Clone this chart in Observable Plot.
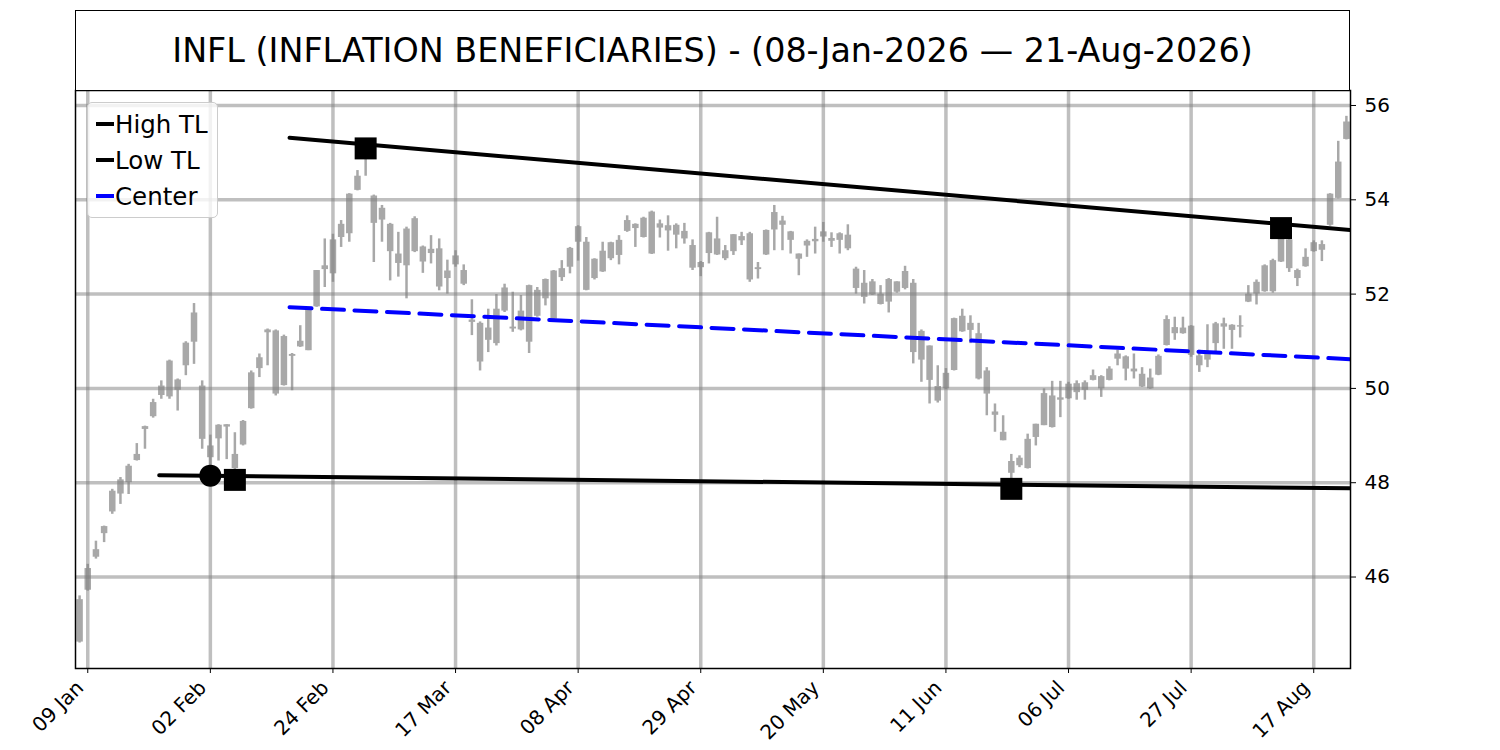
<!DOCTYPE html>
<html><head><meta charset="utf-8">
<script src="https://cdn.jsdelivr.net/npm/d3@7"></script>
<script src="https://cdn.jsdelivr.net/npm/@observablehq/plot@0.6"></script>
<style>
body{margin:0;background:#fff;font-family:"DejaVu Sans",sans-serif;}
#wrap{position:relative;width:1500px;height:750px;overflow:hidden;}
#chart{position:absolute;left:0;top:0;width:1500px;height:750px;}
#title{position:absolute;left:75px;top:10px;width:1275px;height:81px;box-sizing:border-box;border:1.5px solid #000;display:flex;align-items:center;justify-content:center;font-size:33.4px;color:#000;background:#fff;}
#legend{position:absolute;left:87px;top:102px;width:131px;height:116px;box-sizing:border-box;border:1px solid #cccccc;border-radius:5px;background:rgba(255,255,255,0.8);}
.row{position:absolute;left:0;height:36px;display:flex;align-items:center;font-size:24.5px;color:#000;white-space:nowrap;}
.sw{width:18px;height:4px;margin-left:8px;margin-right:1px;}
</style></head><body>
<div id="wrap">
  <div id="chart"></div>
  <div id="title">INFL (INFLATION BENEFICIARIES) - (08-Jan-2026 — 21-Aug-2026)</div>
  <div id="legend"></div>
</div>
<script>
// OHLC per trading day (index 0 = 08 Jan 2026 ... 155 = 21 Aug 2026)
const open = [44.62,45.72,46.42,46.92,47.38,47.76,48.00,48.47,49.13,49.40,49.85,49.82,50.18,50.48,50.98,50.05,48.78,48.93,49.18,48.60,
48.80,49.57,50.42,51.18,51.22,51.10,50.72,50.88,50.80,51.73,52.52,52.43,53.20,53.28,54.20,55.00,54.08,53.82,53.48,52.65,
52.60,53.60,53.00,52.86,52.96,52.33,52.62,52.50,51.45,51.38,51.02,50.95,51.64,51.30,51.64,50.98,52.08,51.90,51.47,52.35,
52.57,53.10,53.10,52.33,52.47,52.75,52.82,53.33,53.48,53.20,53.74,53.40,53.45,53.46,53.33,53.03,52.56,52.86,53.17,52.75,
52.90,53.13,53.28,52.52,52.83,53.36,53.46,53.32,52.85,53.02,53.11,53.21,53.12,53.28,52.96,52.53,52.23,51.98,52.00,51.83,
52.04,52.12,52.23,50.60,50.90,50.04,49.99,50.38,51.20,51.38,51.16,50.37,49.50,49.07,48.45,48.36,48.30,48.96,49.21,49.17,
49.80,49.78,49.91,49.96,50.17,50.25,50.17,50.62,50.67,50.41,50.03,50.22,50.28,50.91,51.16,51.28,51.32,50.69,50.60,50.95,
51.30,51.34,51.30,51.83,52.00,52.05,52.05,52.68,53.15,52.50,52.58,52.90,53.05,53.46,54.03,55.28];
const high = [45.60,46.27,46.76,47.08,47.86,48.11,48.39,48.83,49.20,49.77,50.16,50.60,50.20,50.99,51.80,50.16,49.01,49.23,49.23,49.06,
49.32,50.37,50.73,51.26,51.24,51.13,50.74,51.33,51.72,52.50,53.17,53.27,53.56,54.13,54.62,55.10,54.10,53.88,53.50,53.31,
53.42,53.64,53.02,53.24,53.17,52.72,52.92,52.62,51.88,51.41,51.68,51.99,52.21,52.04,51.97,52.19,52.14,52.32,52.50,52.71,
52.99,53.45,53.20,52.75,53.10,53.10,53.24,53.66,53.49,53.63,53.76,53.57,53.66,53.49,53.50,53.15,52.69,53.31,53.63,53.03,
53.26,53.31,53.31,52.67,53.36,53.88,53.65,53.33,52.85,53.15,53.42,53.52,53.30,53.30,53.47,52.57,52.50,52.31,52.18,52.33,
52.26,52.59,52.31,51.24,50.90,50.48,50.42,51.49,51.68,51.54,51.38,50.44,49.67,49.42,48.60,48.57,49.03,49.24,49.99,50.15,
50.15,50.13,50.16,50.16,50.39,50.27,50.46,50.81,50.69,50.73,50.44,50.41,50.71,51.54,51.51,51.51,51.33,50.81,51.35,51.40,
51.49,51.35,51.54,52.18,52.30,52.62,52.74,53.40,53.20,52.53,52.96,53.13,53.13,54.13,55.24,55.77];
const low = [44.60,45.70,46.38,46.73,47.33,47.54,47.75,48.46,48.71,49.37,49.77,49.77,49.52,50.27,50.51,48.71,48.30,48.46,48.49,48.06,
48.78,49.56,50.23,50.48,49.84,50.05,49.95,50.87,50.80,51.72,52.14,52.25,52.99,53.10,54.19,54.50,52.67,53.10,52.28,52.36,
51.90,52.88,52.44,52.64,52.07,52.00,52.57,52.18,51.12,50.37,50.76,50.90,51.61,51.19,51.22,50.74,51.51,51.75,51.44,52.27,
52.43,52.70,52.07,52.30,52.46,52.71,52.62,53.31,52.99,53.19,52.84,53.19,52.91,52.96,53.06,52.50,52.37,52.64,52.82,52.71,
52.82,53.03,52.25,52.32,52.82,52.92,52.92,52.85,52.39,52.78,52.85,53.10,52.99,52.85,52.92,52.00,51.79,51.97,51.77,51.60,
52.02,52.09,50.52,50.13,49.67,49.69,49.98,50.37,51.19,50.95,50.18,49.42,49.07,48.89,47.87,48.32,48.29,48.78,49.21,49.16,
49.38,49.77,49.75,49.75,50.16,49.81,50.16,50.48,50.16,50.20,50.02,49.98,50.27,50.90,51.02,51.15,50.66,50.34,50.44,50.76,
50.83,50.83,51.07,51.82,51.77,52.04,52.02,52.67,52.46,52.16,52.57,52.89,52.69,53.44,54.02,55.27];
const close = [45.52,46.18,46.58,47.07,47.82,48.06,48.35,48.60,49.19,49.70,50.05,50.58,49.96,50.96,51.60,48.92,48.53,49.22,49.23,48.30,
49.30,50.33,50.65,51.24,49.88,50.06,50.68,51.00,51.68,52.50,52.60,53.15,53.48,54.12,54.50,54.92,53.50,53.57,52.90,52.85,
53.38,52.90,52.68,52.95,52.15,52.49,52.81,52.21,51.40,50.56,51.28,51.68,52.13,51.26,51.24,52.18,51.53,52.31,52.49,52.54,
52.97,53.43,52.08,52.74,52.91,53.09,53.14,53.56,53.39,53.61,52.85,53.49,53.34,53.25,53.17,52.55,52.67,53.30,52.83,52.92,
53.26,53.22,52.30,52.56,53.35,53.73,53.55,53.14,52.74,53.12,53.16,53.32,53.18,53.14,53.25,52.12,51.93,52.26,51.78,52.31,
52.26,52.48,50.76,51.21,50.17,49.73,50.32,51.48,51.53,51.23,50.20,49.88,49.43,48.89,48.20,48.52,48.92,49.24,49.89,49.84,
49.75,50.09,50.10,50.12,50.27,49.99,50.41,50.73,50.41,50.35,50.30,49.99,50.68,51.46,51.29,51.16,50.70,50.48,50.78,51.37,
51.37,51.23,51.33,52.00,52.25,52.60,52.71,53.20,52.54,52.33,52.78,53.09,52.93,54.12,54.80,55.65];

// x-axis ticks (trading-day index) and labels
const tickIdx = [1,16,31,46,61,76,91,106,121,136,151];
const tickLabels = ["09 Jan","02 Feb","24 Feb","17 Mar","08 Apr","29 Apr","20 May","11 Jun","06 Jul","27 Jul","17 Aug"];
const yTicks = [46,48,50,52,54,56];

// trend lines (start/end index, value)
const hiTLx = [25.69, 155.5], hiTLy = [55.315, 53.36];
const loTLx = [9.74, 155.5],  loTLy = [48.16, 47.88];

// pivot markers
const sqX = [19, 35, 114, 147], sqY = [48.06, 55.09, 47.87, 53.40];
const ciX = [16], ciY = [48.15];

const rows = open.map((o, i) => ({i, o, h: high[i], l: low[i], c: close[i]}));
const lineAt = (xs, ys, x) => ys[0] + (ys[1] - ys[0]) * (x - xs[0]) / (xs[1] - xs[0]);
const hiTL = hiTLx.map((x, k) => ({x, y: hiTLy[k]}));
const loTL = loTLx.map((x, k) => ({x, y: loTLy[k]}));
const center = hiTLx.map(x => ({x, y: (lineAt(hiTLx, hiTLy, x) + lineAt(loTLx, loTLy, x)) / 2}));
const squares = sqX.map((x, k) => ({x, y: sqY[k]}));
const circles = ciX.map((x, k) => ({x, y: ciY[k]}));
const ticks = tickIdx.map((t, k) => ({t, label: tickLabels[k]}));

const candle = "#a8a8a8";
const gridStyle = {stroke: "#808080", strokeOpacity: 0.5, strokeWidth: 3.5};

const chart = Plot.plot({
  width: 1500, height: 750,
  marginLeft: 75, marginRight: 150, marginTop: 90, marginBottom: 82,
  x: {domain: [-0.5, 155.5], label: null},
  y: {domain: [44.06, 56.318], label: null},
  style: {fontFamily: "DejaVu Sans", fontSize: "20px", color: "#000", background: "#fff"},
  marks: [
    Plot.ruleX(rows, {x: "i", y1: "l", y2: "h", stroke: candle, strokeWidth: 2.5}),
    Plot.ruleX(rows, {x: "i", y1: d => Math.min(d.o, d.c), y2: d => Math.max(d.o, d.c), stroke: candle, strokeWidth: 6.5}),
    Plot.gridX(tickIdx, gridStyle),
    Plot.gridY(yTicks, gridStyle),
    Plot.line(hiTL, {x: "x", y: "y", stroke: "black", strokeWidth: 4, clip: true}),
    Plot.line(loTL, {x: "x", y: "y", stroke: "black", strokeWidth: 4, clip: true}),
    Plot.line(center, {x: "x", y: "y", stroke: "blue", strokeWidth: 4, strokeDasharray: "22,10.5", clip: true}),
    Plot.dot(squares, {x: "x", y: "y", symbol: "square", r: 12.4, fill: "black", stroke: null}),
    Plot.dot(circles, {x: "x", y: "y", symbol: "circle", r: 11, fill: "black", stroke: null}),
    Plot.frame({stroke: "black", strokeWidth: 1.5}),
    Plot.axisX({ticks: tickIdx, tickSize: 5, tickFormat: () => "", stroke: "black"}),
    Plot.text(ticks, {x: "t", frameAnchor: "bottom", text: "label", rotate: -45, textAnchor: "end", lineAnchor: "top", dx: -13, dy: 10.5, fontSize: 20, fill: "black"}),
    Plot.axisY({anchor: "right", ticks: yTicks, tickFormat: d => String(d), tickSize: 5, tickPadding: 9, fontSize: 20, stroke: "black"})
  ]
});
document.getElementById("chart").appendChild(chart);

// legend
const legendItems = [
  {label: "High TL", color: "black"},
  {label: "Low TL", color: "black"},
  {label: "Center", color: "blue"}
];
const lg = document.getElementById("legend");
legendItems.forEach((it, k) => {
  const r = document.createElement("div");
  r.className = "row";
  r.style.top = (3 + 36 * k) + "px";
  const sw = document.createElement("span");
  sw.className = "sw";
  sw.style.background = it.color;
  const t = document.createElement("span");
  t.textContent = it.label;
  r.appendChild(sw); r.appendChild(t);
  lg.appendChild(r);
});
</script>
</body></html>
